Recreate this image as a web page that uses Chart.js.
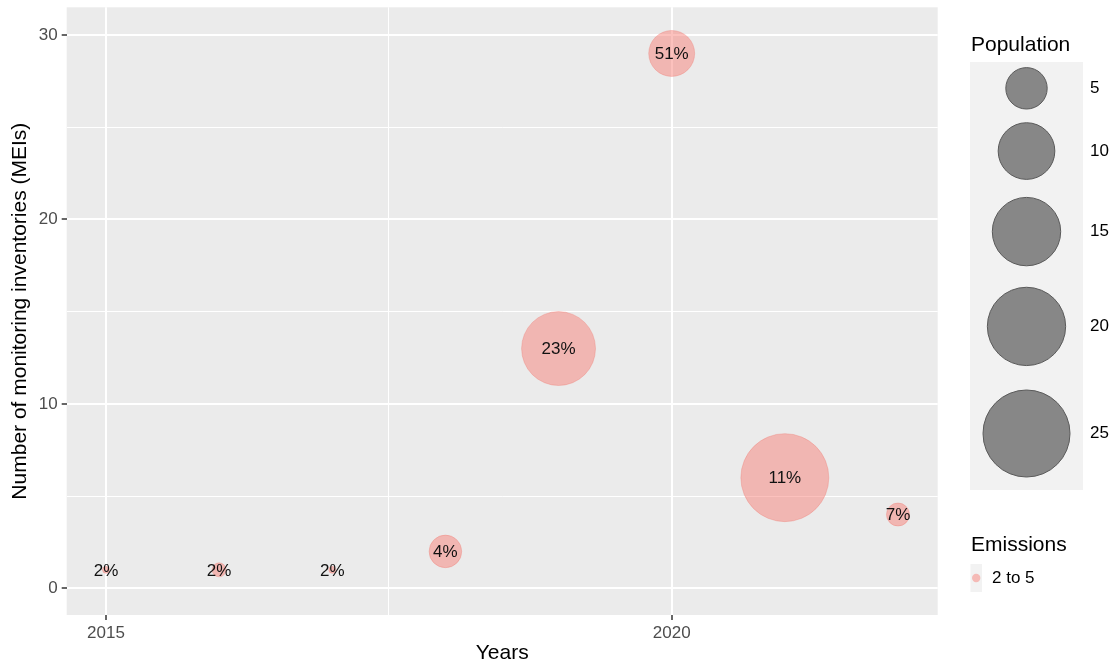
<!DOCTYPE html>
<html><head><meta charset="utf-8">
<script src="https://cdn.jsdelivr.net/npm/chart.js@4"></script>
<style>html,body{margin:0;padding:0;background:#fff;} #wrap{width:1119px;height:666px;position:relative;}</style>
</head><body><div id="wrap"><canvas id="c"></canvas></div>
<script>
// ---- data ----
const years = [2015, 2016, 2017, 2018, 2019, 2020, 2021, 2022];
const inventories = [1, 1, 1, 2, 13, 29, 6, 4];
const population = [0.02, 0.33, 0.02, 2.9, 17.7, 6.3, 25.6, 1.26];
const emissionShare = ['2%', '2%', '2%', '4%', '23%', '51%', '11%', '7%'];
const populationBreaks = [5, 10, 15, 20, 25];
const emissionClasses = ['2 to 5'];
const xTicks = [2015, 2017.5, 2020];
const yTicks = [0, 5, 10, 15, 20, 25, 30];

// ---- styles / scales ----
const FONT = "'Liberation Sans', Arial, sans-serif";
const PINK = 'rgba(248,118,109,0.45)';
const PINK_BORDER = 'rgba(240,110,100,0.30)';
function sizeScale(p) { return 2.25 + 8.25 * Math.sqrt(p); }

const points = years.map((y, i) => ({ x: y, y: inventories[i], r: sizeScale(population[i]) }));

const panelBg = {
  id: 'panelBg',
  beforeDraw(chart) {
    const { ctx, chartArea: a } = chart;
    ctx.save();
    ctx.fillStyle = '#ffffff';
    ctx.fillRect(0, 0, chart.width, chart.height);
    ctx.fillStyle = '#EBEBEB';
    ctx.fillRect(a.left, a.top, a.right - a.left, a.bottom - a.top);
    ctx.restore();
  }
};

const pointLabels = {
  id: 'pointLabels',
  afterDatasetsDraw(chart) {
    const ctx = chart.ctx;
    const meta = chart.getDatasetMeta(0);
    ctx.save();
    ctx.font = '17px ' + FONT;
    ctx.fillStyle = '#111111';
    ctx.textAlign = 'center';
    ctx.textBaseline = 'middle';
    meta.data.forEach((el, i) => {
      ctx.fillText(emissionShare[i], el.x, el.y + 1);
    });
    ctx.restore();
  }
};

const legends = {
  id: 'legends',
  afterDraw(chart) {
    const ctx = chart.ctx;
    ctx.save();
    ctx.fillStyle = '#000';
    ctx.font = '21px ' + FONT;
    ctx.textBaseline = 'alphabetic';
    ctx.textAlign = 'left';
    ctx.fillText('Population', 971, 50.5);
    const radii = populationBreaks.map(sizeScale);
    const heights = radii.map(r => 1.32 * 2 * r - 2);
    const total = heights.reduce((a, b) => a + b, 0);
    const px = 970, pw = 113, top = 62;
    ctx.fillStyle = '#F2F2F2';
    ctx.fillRect(px, top, pw, total);
    let y = top;
    radii.forEach((r, i) => {
      const cy = y + heights[i] / 2;
      ctx.beginPath();
      ctx.arc(px + pw / 2, cy, r, 0, Math.PI * 2);
      ctx.fillStyle = '#878787';
      ctx.fill();
      ctx.lineWidth = 1;
      ctx.strokeStyle = '#5a5a5a';
      ctx.stroke();
      ctx.fillStyle = '#000';
      ctx.font = '17px ' + FONT;
      ctx.textBaseline = 'middle';
      ctx.fillText(String(populationBreaks[i]), 1090, cy);
      y += heights[i];
    });
    // Emissions legend
    ctx.textBaseline = 'alphabetic';
    ctx.font = '21px ' + FONT;
    ctx.fillText('Emissions', 971, 551);
    emissionClasses.forEach((lab, i) => {
      const ky = 564 + i * 28;
      ctx.fillStyle = '#F2F2F2';
      ctx.fillRect(970.5, ky, 11.5, 28);
      ctx.beginPath();
      ctx.arc(976.2, ky + 14, 4.2, 0, Math.PI * 2);
      ctx.fillStyle = PINK;
      ctx.fill();
      ctx.fillStyle = '#000';
      ctx.font = '17px ' + FONT;
      ctx.textBaseline = 'middle';
      ctx.fillText(lab, 992, ky + 14.5);
    });
    ctx.restore();
  }
};

new Chart(document.getElementById('c'), {
  type: 'bubble',
  data: {
    datasets: [{
      data: points,
      backgroundColor: PINK,
      borderColor: PINK_BORDER,
      borderWidth: 1
    }]
  },
  options: {
    responsive: true,
    maintainAspectRatio: false,
    animation: false,
    events: [],
    devicePixelRatio: 1,
    layout: { autoPadding: false, padding: { top: 7.3, right: 181.3, bottom: 0, left: 0 } },
    plugins: { legend: { display: false }, tooltip: { enabled: false } },
    scales: {
      x: {
        type: 'linear',
        min: 2014.653,
        max: 2022.351,
        afterBuildTicks(s) { s.ticks = xTicks.map(v => ({ value: v })); },
        afterFit(s) { s.height = 51; s.paddingLeft = 0; s.paddingRight = 0; },
        border: { display: false },
        grid: {
          color: '#ffffff',
          lineWidth: c => (c.tick && c.tick.value % 5 === 0) ? 2 : 1,
          tickColor: c => (c.tick && c.tick.value % 5 === 0) ? '#333333' : 'rgba(0,0,0,0)',
          tickLength: 5,
          tickWidth: 1.5,
          drawTicks: true
        },
        ticks: {
          autoSkip: false,
          maxRotation: 0,
          padding: 3,
          color: '#4D4D4D',
          font: { family: FONT, size: 17 },
          callback: v => (v % 5 === 0) ? String(v) : ''
        },
        title: {
          display: true,
          text: 'Years',
          color: '#000',
          font: { family: FONT, size: 21 },
          padding: { top: 0, bottom: 0 }
        }
      },
      y: {
        type: 'linear',
        min: -1.448,
        max: 31.502,
        afterBuildTicks(s) { s.ticks = yTicks.map(v => ({ value: v })); },
        afterFit(s) { s.width = 66.7; s.paddingTop = 0; s.paddingBottom = 0; },
        border: { display: false },
        grid: {
          color: '#ffffff',
          lineWidth: c => (c.tick && c.tick.value % 10 === 0) ? 2 : 1,
          tickColor: c => (c.tick && c.tick.value % 10 === 0) ? '#333333' : 'rgba(0,0,0,0)',
          tickLength: 5,
          tickWidth: 1.5,
          drawTicks: true
        },
        ticks: {
          autoSkip: false,
          padding: 4,
          color: '#4D4D4D',
          font: { family: FONT, size: 17 },
          callback: v => (v % 10 === 0) ? String(v) : ''
        },
        title: {
          display: true,
          text: 'Number of monitoring inventories (MEIs)',
          color: '#000',
          font: { family: FONT, size: 21 },
          padding: { top: 8, bottom: 0 }
        }
      }
    }
  },
  plugins: [panelBg, pointLabels, legends]
});
</script>
</body></html>
